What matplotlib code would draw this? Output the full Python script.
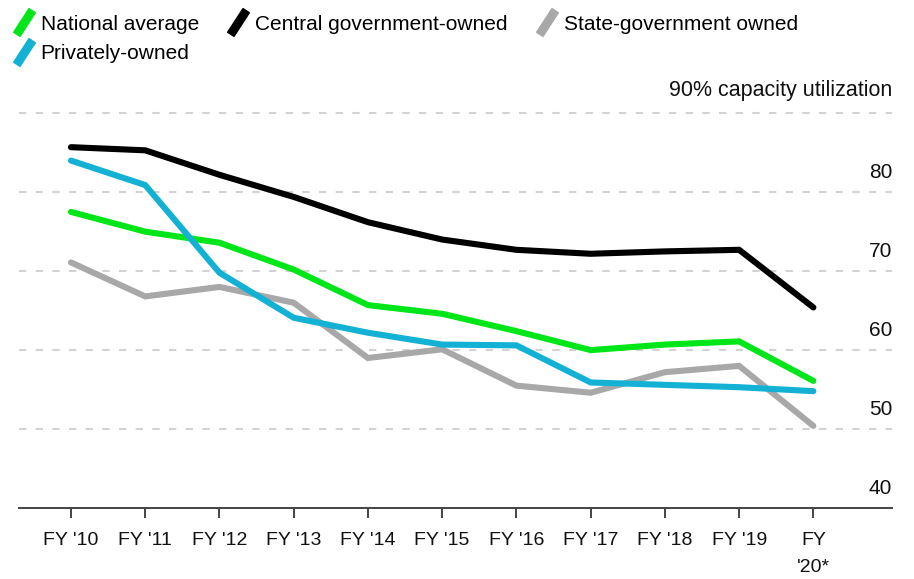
import matplotlib
matplotlib.use("Agg")
import matplotlib.pyplot as plt
from matplotlib.lines import Line2D
from matplotlib.path import Path
import numpy as np

years = ["FY '10", "FY '11", "FY '12", "FY '13", "FY '14", "FY '15",
         "FY '16", "FY '17", "FY '18", "FY '19", "FY\n'20*"]
national = [77.5, 75.0, 73.6, 70.2, 65.7, 64.6, 62.4, 60.0, 60.7, 61.1, 56.1]
central = [85.7, 85.3, 82.2, 79.4, 76.2, 74.0, 72.7, 72.2, 72.5, 72.7, 65.4]
state = [71.1, 66.8, 68.0, 66.0, 59.0, 60.1, 55.5, 54.6, 57.2, 58.0, 50.4]
private = [84.0, 80.9, 69.8, 64.1, 62.2, 60.7, 60.6, 55.9, 55.6, 55.3, 54.8]
yticks = [40, 50, 60, 70, 80]
grid_levels = [50, 60, 70, 80, 90]

COLORS = {"national": "#00E619", "central": "#000000",
          "state": "#A8A8A8", "private": "#13B1D4"}

plt.rcParams["font.family"] = ["Liberation Sans", "DejaVu Sans"]

fig = plt.figure(figsize=(9.14, 5.79), dpi=100)
ax = fig.add_axes([0.0208, 0.1226, 0.9552, 0.6955])
x = np.arange(len(years))

ax.set_xlim(-0.70, 11.06)
ax.set_ylim(40, 91)

for lvl in grid_levels:
    ax.axhline(lvl, color="#D2D2D2", linewidth=1.5, linestyle=(0, (3.5, 4.5)),
               zorder=1)

series = [("state", state), ("national", national),
          ("private", private), ("central", central)]
for key, vals in series:
    ax.plot(x, vals, color=COLORS[key], linewidth=4.4,
            solid_capstyle="round", solid_joinstyle="miter", zorder=3)

for spine in ("top", "right", "left"):
    ax.spines[spine].set_visible(False)
ax.spines["bottom"].set_color("#444444")
ax.spines["bottom"].set_linewidth(1.4)
ax.set_yticks([])
ax.set_xticks(x, years)
ax.tick_params(axis="x", length=7, width=1.4, color="#444444",
               labelsize=14, pad=10, labelcolor="#111111")
for lab in ax.get_xticklabels():
    lab.set_verticalalignment("top")
    lab.set_linespacing(1.8)

for v in yticks:
    ax.text(1.0, v + 1.3, str(v), transform=ax.get_yaxis_transform(),
            ha="right", va="bottom", fontsize=15, color="#111111")
ax.text(1.0, 91.6, "90% capacity utilization",
        transform=ax.get_yaxis_transform(), ha="right", va="bottom",
        fontsize=15.5, color="#111111", clip_on=False)

# slanted legend swatches: a short stroke tilted about 57 degrees
ang = np.deg2rad(57)
d = np.array([np.cos(ang), np.sin(ang)])
n = np.array([-np.sin(ang), np.cos(ang)]) * 0.27
slant = Path([-d + n, -d - n, d - n, d + n, -d + n],
             [Path.MOVETO, Path.LINETO, Path.LINETO, Path.LINETO,
              Path.CLOSEPOLY])
labels = {"national": "National average", "private": "Privately-owned",
          "central": "Central government-owned",
          "state": "State-government owned"}
order = ["national", "private", "central", "state"]
handles = [Line2D([], [], linestyle="None", marker=slant, markersize=20,
                  markerfacecolor=COLORS[k], markeredgecolor=COLORS[k])
           for k in order]
fig.legend(handles, [labels[k] for k in order], ncol=3, frameon=False,
           loc="upper left", bbox_to_anchor=(0.0, 1.0), fontsize=15,
           handlelength=0.9, handletextpad=0.35, columnspacing=1.45,
           labelspacing=0.5, borderaxespad=0.3)

fig.savefig("out.png", dpi=100, facecolor="white")
